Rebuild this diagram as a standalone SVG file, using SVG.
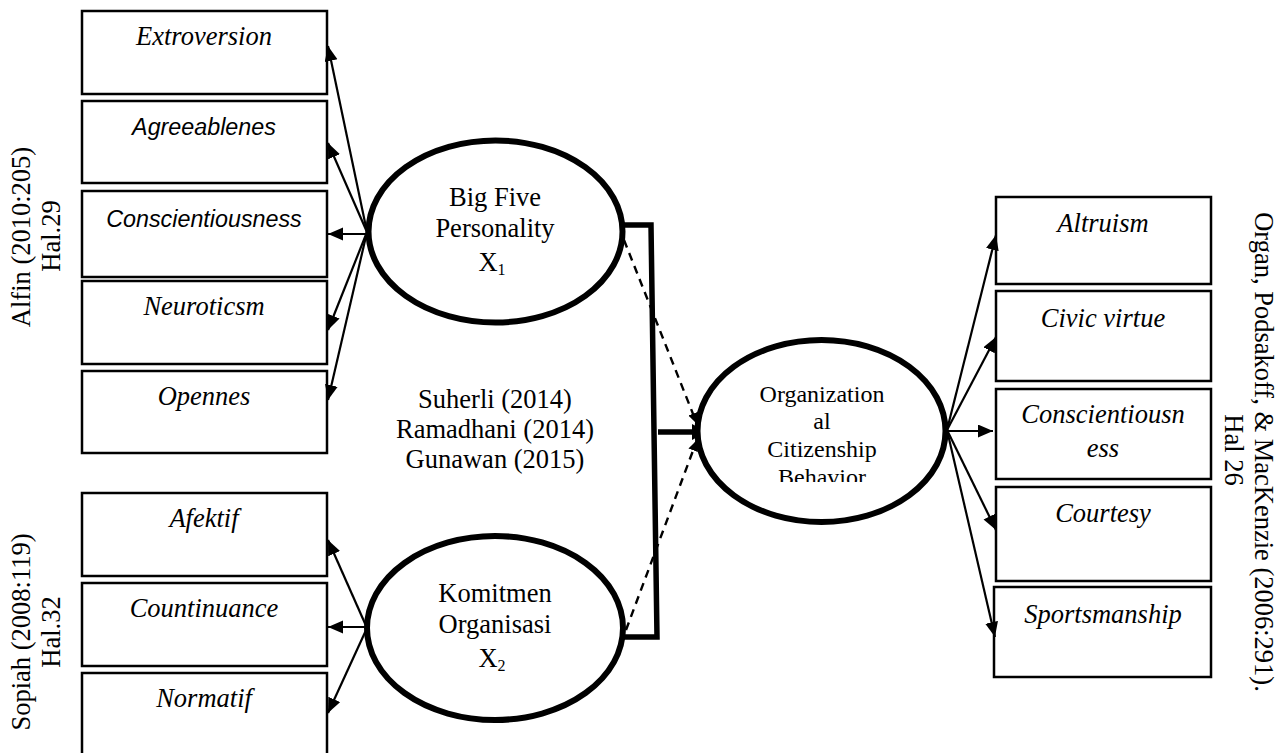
<svg xmlns="http://www.w3.org/2000/svg" width="1283" height="753" viewBox="0 0 1283 753">
<style>
.box{fill:#fff;stroke:#000;stroke-width:2.5}
.ell{fill:#fff;stroke:#000;stroke-width:6}
.ti{font-family:"Liberation Serif","Times New Roman",serif;font-style:italic;font-size:26.5px;text-anchor:middle;fill:#000}
.si{font-family:"Liberation Sans",Arial,sans-serif;font-style:italic;font-size:23.3px;text-anchor:middle;fill:#000}
.t{font-family:"Liberation Serif","Times New Roman",serif;font-size:26.5px;text-anchor:middle;fill:#000}
.t2{font-family:"Liberation Serif","Times New Roman",serif;font-size:24px;text-anchor:middle;fill:#000}
.thin{stroke:#000;stroke-width:2.2;fill:none}
.thick{stroke:#000;stroke-width:5.5;fill:none}
.dash{stroke:#000;stroke-width:2.4;fill:none;stroke-dasharray:8 6}
</style>
<defs>
<marker id="ah" markerUnits="userSpaceOnUse" markerWidth="16" markerHeight="14" refX="15" refY="6.5" orient="auto"><path d="M0,0 L15,6.5 L0,13 z" fill="#000"/></marker>
<marker id="ahs" markerUnits="userSpaceOnUse" markerWidth="12" markerHeight="12" refX="11" refY="5" orient="auto"><path d="M0,0 L11,5 L0,10 z" fill="#000"/></marker>
<marker id="ahb" markerUnits="userSpaceOnUse" markerWidth="16" markerHeight="18" refX="15" refY="8" orient="auto"><path d="M0,0 L15,8 L0,16 z" fill="#000"/></marker>
<clipPath id="ocbclip"><rect x="700" y="370" width="240" height="112"/></clipPath>
</defs>
<rect width="1283" height="753" fill="#fff"/>

<g id="ref-alfin">
<text class="t" transform="translate(30,237) rotate(-90)">Alfin (2010:205)</text>
<text class="t" transform="translate(60,236) rotate(-90)">Hal.29</text>
</g>
<g id="ref-sopiah">
<text class="t" transform="translate(30,632) rotate(-90)">Sopiah (2008:119)</text>
<text class="t" transform="translate(60,632) rotate(-90)">Hal.32</text>
</g>
<g id="ref-organ">
<text class="t" transform="translate(1255,452) rotate(90)">Organ, Podsakoff, &amp; MacKenzie (2006:291).</text>
<text class="t" transform="translate(1225,450) rotate(90)">Hal 26</text>
</g>

<g id="box-extroversion"><rect class="box" x="82" y="11" width="245" height="83"/><text class="ti" x="204" y="45">Extroversion</text></g>
<g id="box-agreeablenes"><rect class="box" x="82" y="101" width="245" height="82"/><text class="si" x="204" y="135">Agreeablenes</text></g>
<g id="box-conscientiousness"><rect class="box" x="82" y="191" width="245" height="86"/><text class="si" x="204" y="227">Conscientiousness</text></g>
<g id="box-neuroticsm"><rect class="box" x="82" y="281" width="245" height="83"/><text class="ti" x="204" y="315">Neuroticsm</text></g>
<g id="box-opennes"><rect class="box" x="82" y="371" width="245" height="82"/><text class="ti" x="204" y="405">Opennes</text></g>
<g id="box-afektif"><rect class="box" x="82" y="493" width="245" height="83"/><text class="ti" x="204" y="527">Afektif</text></g>
<g id="box-countinuance"><rect class="box" x="82" y="583" width="245" height="83"/><text class="ti" x="204" y="617">Countinuance</text></g>
<g id="box-normatif"><rect class="box" x="82" y="673" width="245" height="90"/><text class="ti" x="204" y="707">Normatif</text></g>

<g id="box-altruism"><rect class="box" x="996" y="197" width="215" height="87"/><text class="ti" x="1103" y="232">Altruism</text></g>
<g id="box-civic"><rect class="box" x="996" y="291" width="215" height="90"/><text class="ti" x="1103" y="327">Civic virtue</text></g>
<g id="box-conscientiousness-r"><rect class="box" x="996" y="389" width="215" height="90"/><text class="ti" x="1103" y="423">Conscientiousn</text><text class="ti" x="1103" y="457">ess</text></g>
<g id="box-courtesy"><rect class="box" x="996" y="487" width="215" height="94"/><text class="ti" x="1103" y="522">Courtesy</text></g>
<g id="box-sportsmanship"><rect class="box" x="994" y="587" width="217" height="90"/><text class="ti" x="1103" y="623">Sportsmanship</text></g>

<g id="connectors">
<line class="thin" x1="367" y1="232" x2="328" y2="46" marker-end="url(#ah)"/>
<line class="thin" x1="367" y1="232" x2="328" y2="143" marker-end="url(#ah)"/>
<line class="thin" x1="367" y1="234" x2="328" y2="234" marker-end="url(#ah)"/>
<line class="thin" x1="367" y1="232" x2="328" y2="330" marker-end="url(#ah)"/>
<line class="thin" x1="367" y1="232" x2="328" y2="400" marker-end="url(#ah)"/>
<line class="thin" x1="367" y1="628" x2="328" y2="540" marker-end="url(#ah)"/>
<line class="thin" x1="367" y1="627" x2="328" y2="627" marker-end="url(#ah)"/>
<line class="thin" x1="367" y1="628" x2="328" y2="713" marker-end="url(#ah)"/>
<line class="thin" x1="947" y1="430" x2="996" y2="235" marker-end="url(#ah)"/>
<line class="thin" x1="947" y1="430" x2="996" y2="337" marker-end="url(#ah)"/>
<line class="thin" x1="947" y1="431" x2="993" y2="431" marker-end="url(#ah)"/>
<line class="thin" x1="947" y1="430" x2="996" y2="530" marker-end="url(#ah)"/>
<line class="thin" x1="947" y1="430" x2="995" y2="637" marker-end="url(#ah)"/>
<polyline class="thick" points="623,225 651,225 657,637 623,637"/>
<line class="thick" x1="658" y1="432" x2="707" y2="432" marker-end="url(#ahb)"/>
<line class="dash" x1="624" y1="240" x2="697" y2="424" marker-end="url(#ahs)"/>
<line class="dash" x1="626" y1="630" x2="697" y2="440" marker-end="url(#ahs)"/>
</g>

<g id="node-bigfive">
<ellipse class="ell" cx="495.5" cy="231.5" rx="127" ry="91"/>
<text class="t" x="495" y="206">Big Five</text>
<text class="t" x="495" y="237">Personality</text>
<text class="t" x="492" y="271">X<tspan font-size="16" dy="4">1</tspan></text>
</g>
<g id="node-komitmen">
<ellipse class="ell" cx="495" cy="628" rx="128" ry="92"/>
<text class="t" x="495" y="602">Komitmen</text>
<text class="t" x="495" y="633">Organisasi</text>
<text class="t" x="492" y="667">X<tspan font-size="16" dy="4">2</tspan></text>
</g>
<g id="node-ocb">
<ellipse class="ell" cx="821.5" cy="431" rx="124" ry="91"/>
<g clip-path="url(#ocbclip)">
<text class="t2" x="822" y="402">Organization</text>
<text class="t2" x="822" y="429">al</text>
<text class="t2" x="822" y="457">Citizenship</text>
<text class="t2" x="822" y="485">Behavior</text>
</g>
</g>

<g id="ref-center">
<text class="t" x="495" y="408">Suherli (2014)</text>
<text class="t" x="495" y="438">Ramadhani (2014)</text>
<text class="t" x="495" y="468">Gunawan (2015)</text>
</g>
</svg>
